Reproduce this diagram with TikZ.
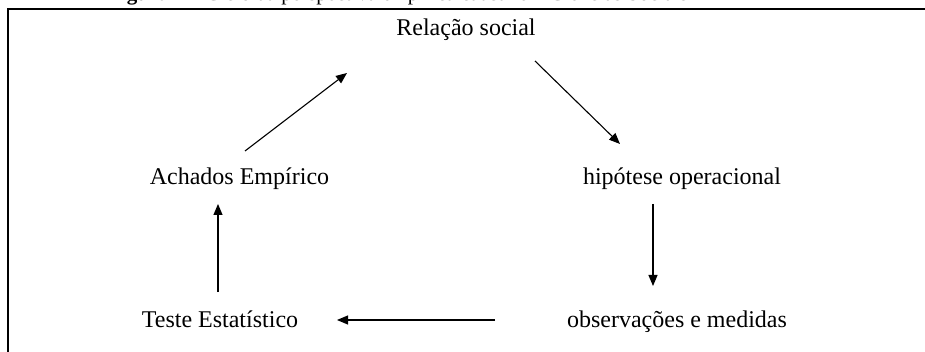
\documentclass[tikz,border=0pt]{standalone}
\usepackage{fontspec}
\setmainfont{Liberation Serif}
\usetikzlibrary{arrows.meta}
\begin{document}
\begin{tikzpicture}[x=1pt,y=-1pt,
  lbl/.style={anchor=base,inner sep=0pt,font=\fontsize{24}{28}\selectfont},
  arr/.style={line width=1.1pt,-{Triangle[length=11pt,width=9pt]}},
  frame/.style={line width=2.6pt}]
\useasboundingbox (0,0) rectangle (925,352);
\begin{scope}
\clip (0,0) rectangle (925,352);
% caption (cut off at the top)
\node[anchor=base west,inner sep=0pt,font=\fontsize{21}{24}\selectfont] (cap) at (108,1)
  {\textbf{Figura 1} – Ciclo da perspectiva empírica causal em Ciências Sociais};
\end{scope}
% frame
\draw[frame] (8,352) -- (8,9) -- (925,9);
% labels
\node[lbl] (rel) at (466,36) {Relação social};
\node[lbl] (ach) at (239.5,185) {Achados Empírico};
\node[lbl] (hip) at (682,185) {hipótese operacional};
\node[lbl] (tes) at (220,327) {Teste Estatístico};
\node[lbl] (obs) at (677,327) {observações e medidas};
% arrow end points
\coordinate (a1) at (245,151);
\coordinate (a2) at (347,73);
\coordinate (b1) at (535,61);
\coordinate (b2) at (620,144);
\coordinate (c1) at (653,204);
\coordinate (c2) at (653,286);
\coordinate (d1) at (495,320);
\coordinate (d2) at (337,320);
\coordinate (e1) at (218,292);
\coordinate (e2) at (218,204);
\draw[arr] (a1) -- (a2);
\draw[arr] (b1) -- (b2);
\draw[arr] (c1) -- (c2);
\draw[arr] (d1) -- (d2);
\draw[arr] (e1) -- (e2);
\end{tikzpicture}
\end{document}
